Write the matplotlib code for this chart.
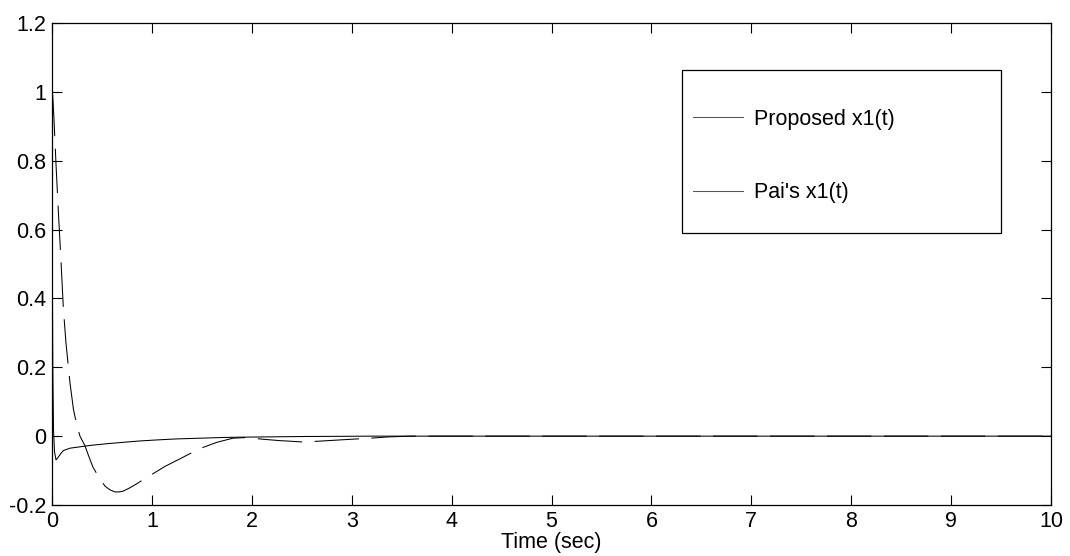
import matplotlib
matplotlib.use("Agg")
import matplotlib.pyplot as plt
from matplotlib.patches import Rectangle
import numpy as np

plt.rcParams['font.family'] = ['Liberation Sans', 'DejaVu Sans']
plt.rcParams['lines.scale_dashes'] = False

# Proposed x1(t)
t_prop = [0.0, 0.003, 0.008, 0.015, 0.025, 0.04, 0.063, 0.09, 0.113, 0.18, 0.28, 0.38,
          0.55, 0.71, 0.88, 1.05, 1.25, 1.48, 1.7, 1.88, 2.2, 2.55, 2.9, 3.2, 4.0, 6.0, 8.0, 10.0]
x_prop = [1.0, 0.5, 0.2, 0.02, -0.045, -0.069, -0.061, -0.05, -0.042, -0.035, -0.031, -0.027,
          -0.022, -0.018, -0.014, -0.011, -0.008, -0.006, -0.004, -0.003, -0.002, -0.001, -0.0005, 0.0, 0.0, 0.0, 0.0, 0.0]

# Pai's x1(t)
t_pai = [0.0, 0.007, 0.02, 0.04, 0.064, 0.088, 0.114, 0.14, 0.18, 0.215, 0.25, 0.28, 0.33,
         0.37, 0.41, 0.47, 0.53, 0.58, 0.63, 0.67, 0.71, 0.78, 0.85, 0.92, 1.0, 1.13, 1.28,
         1.4, 1.5, 1.65, 1.81, 1.95, 2.11, 2.28, 2.4, 2.51, 2.65, 2.88, 3.18, 3.38, 3.6,
         4.0, 6.0, 8.0, 10.0]
x_pai = [1.0, 0.99, 0.92, 0.79, 0.65, 0.52, 0.37, 0.27, 0.155, 0.077, 0.03, 0.0, -0.028,
         -0.06, -0.09, -0.12, -0.145, -0.156, -0.162, -0.162, -0.16, -0.15, -0.138, -0.125, -0.111,
         -0.088, -0.066, -0.048, -0.034, -0.018, -0.006, -0.004, -0.009, -0.013, -0.015, -0.017,
         -0.015, -0.011, -0.006, -0.002, 0.0, 0.0, 0.0, 0.0, 0.0]

x_ticks = [0, 1, 2, 3, 4, 5, 6, 7, 8, 9, 10]
y_ticks = [-0.2, 0, 0.2, 0.4, 0.6, 0.8, 1, 1.2]
y_ticklabels = ['-0.2', '0', '0.2', '0.4', '0.6', '0.8', '1', '1.2']

FS = 15.5

fig = plt.figure(figsize=(10.7, 5.56), dpi=100)
ax = fig.add_axes([52/1070, 1-505/556, 999/1070, 482/556])

l1, = ax.plot(t_prop, x_prop, color='black', lw=0.75, label='Proposed x1(t)')
l2, = ax.plot(t_pai, x_pai, color='black', lw=0.75, linestyle=(0, (32, 9)), label="Pai's x1(t)")

ax.set_xlim(0, 10)
ax.set_ylim(-0.2, 1.2)
ax.set_xticks(x_ticks)
ax.set_xticklabels([str(v) for v in x_ticks])
ax.set_yticks(y_ticks)
ax.set_yticklabels(y_ticklabels)
ax.tick_params(direction='in', length=7, width=0.8, top=True, right=True,
               labelsize=FS, pad=4)
for s in ax.spines.values():
    s.set_linewidth(0.9)
ax.set_xlabel('Time (sec)', fontsize=FS, labelpad=0)

# legend frame
x0 = (682-52)/999; x1 = (1001-52)/999
yt = (505-70)/482; yb = (505-233)/482
ax.add_patch(Rectangle((x0, yb), x1-x0, yt-yb, transform=ax.transAxes,
                       facecolor='white', edgecolor='black', lw=0.9, zorder=5))
leg = ax.legend(handles=[l1, l2], labels=['Proposed x1(t)', "Pai's x1(t)"],
                loc='upper left', bbox_to_anchor=((693-52)/999, (505-109)/482),
                frameon=False, fontsize=FS, handlelength=2.3, handletextpad=0.55,
                labelspacing=2.42, borderpad=0, borderaxespad=0)
leg.set_zorder(6)
for h in leg.legend_handles:
    h.set_linestyle('-')
    h.set_color('#555555')

fig.savefig('out.png', dpi=100)
